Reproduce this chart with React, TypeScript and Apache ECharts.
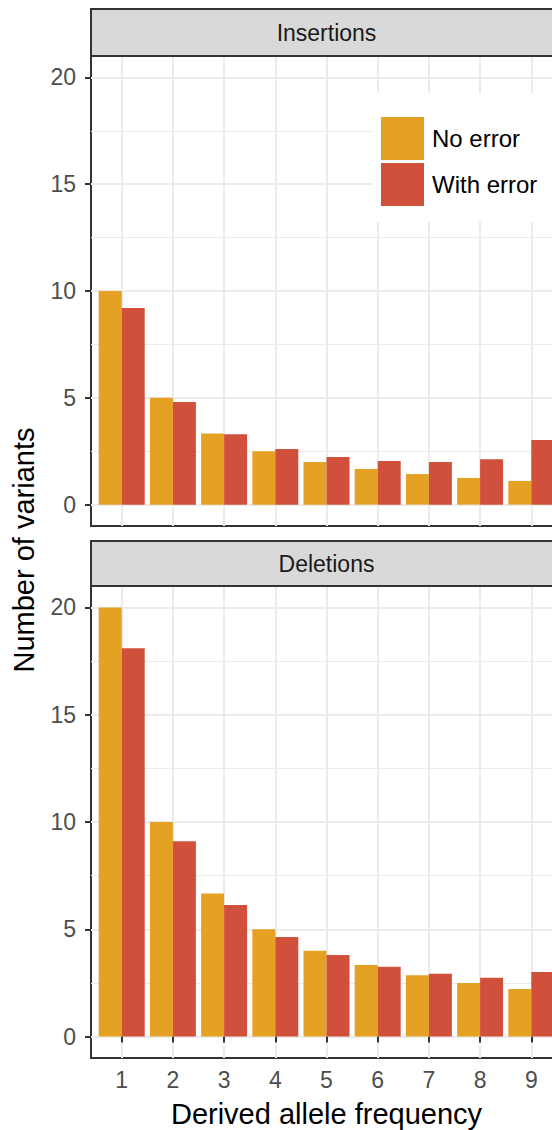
import React, { useEffect, useRef } from "react";
import * as echarts from "echarts";

// ---- data ----
const categories = [1, 2, 3, 4, 5, 6, 7, 8, 9];
const insertionsNoError = [10, 5, 3.33, 2.5, 2.0, 1.67, 1.43, 1.25, 1.11];
const insertionsWithError = [9.2, 4.8, 3.3, 2.6, 2.23, 2.04, 1.99, 2.13, 3.02];
const deletionsNoError = [20, 10, 6.67, 5, 4, 3.33, 2.86, 2.5, 2.22];
const deletionsWithError = [18.1, 9.1, 6.13, 4.64, 3.8, 3.25, 2.93, 2.74, 3.01];
const yTicks = [0, 5, 10, 15, 20];
const yMinorTicks = [2.5, 7.5, 12.5, 17.5];
const panelTitles = ["Insertions", "Deletions"];
const seriesNames = ["No error", "With error"];
const xTitle = "Derived allele frequency";
const yTitle = "Number of variants";

const ORANGE = "#E5A124";
const RED = "#D1503C";
const FONT = "Liberation Sans, Arial, Helvetica, sans-serif";
const GRID_MAJOR = "#EBEBEB";
const DARK = "#333333";

const PANEL_LEFT = 91;
const PANEL_WIDTH = 471;
const panels = [
  { top: 56, height: 470, stripTop: 9, stripH: 47 },
  { top: 586, height: 472, stripTop: 541, stripH: 45 },
];

export default function App() {
  const ref = useRef<HTMLDivElement>(null);
  useEffect(() => {
    if (!ref.current) return;
    const chart = echarts.init(ref.current, null, { renderer: "svg" });

    const grids = panels.map((p) => ({
      left: PANEL_LEFT,
      top: p.top,
      width: PANEL_WIDTH,
      height: p.height,
      show: true,
      backgroundColor: "#fff",
      borderColor: DARK,
      borderWidth: 2,
      containLabel: false,
    }));

    const xAxes = panels.map((_, i) => ({
      type: "value",
      gridIndex: i,
      min: 0.4,
      max: 9.6,
      axisLine: { show: false },
      axisTick: {
        show: i === 1,
        length: 6,
        lineStyle: { color: DARK, width: 2 },
        customValues: categories,
      },
      axisLabel: {
        show: i === 1,
        customValues: categories,
        color: "#4D4D4D",
        fontSize: 23,
        fontFamily: FONT,
        margin: 10,
      },
      splitLine: {
        show: true,
        customValues: categories,
        lineStyle: { color: GRID_MAJOR, width: 2 },
      },
    }));

    const yAxes: any[] = [];
    panels.forEach((_, i) => {
      yAxes.push({
        type: "value",
        gridIndex: i,
        min: -1,
        max: 21,
        axisLine: { show: false },
        axisTick: {
          show: true,
          length: 6,
          lineStyle: { color: DARK, width: 2 },
          customValues: yTicks,
        },
        axisLabel: {
          customValues: yTicks,
          color: "#4D4D4D",
          fontSize: 23,
          fontFamily: FONT,
          margin: 15,
        },
        splitLine: {
          show: true,
          customValues: yTicks,
          lineStyle: { color: GRID_MAJOR, width: 2 },
        },
      });
      yAxes.push({
        type: "value",
        gridIndex: i,
        min: -1,
        max: 21,
        position: "left",
        axisLine: { show: false },
        axisTick: { show: false, customValues: yMinorTicks },
        axisLabel: { show: false, customValues: yMinorTicks },
        splitLine: {
          show: true,
          customValues: yMinorTicks,
          lineStyle: { color: GRID_MAJOR, width: 1 },
        },
      });
    });

    const panelData = [
      [insertionsNoError, insertionsWithError],
      [deletionsNoError, deletionsWithError],
    ];
    const colors = [ORANGE, RED];
    const series: any[] = [];
    panelData.forEach((pair, pi) => {
      pair.forEach((vals, si) => {
        series.push({
          type: "bar",
          name: seriesNames[si],
          xAxisIndex: pi,
          yAxisIndex: pi * 2,
          data: categories.map((c, k) => [c, vals[k]]),
          barWidth: 23,
          barGap: "0%",
          itemStyle: { color: colors[si] },
          z: 3,
        });
      });
    });

    const graphics: any[] = [];
    panels.forEach((p, i) => {
      graphics.push({
        type: "rect",
        shape: { x: PANEL_LEFT, y: p.stripTop, width: PANEL_WIDTH, height: p.stripH },
        style: { fill: "#D9D9D9", stroke: DARK, lineWidth: 2 },
        z: 10,
      });
      graphics.push({
        type: "text",
        x: PANEL_LEFT + PANEL_WIDTH / 2,
        y: p.stripTop + p.stripH / 2,
        style: {
          text: panelTitles[i],
          fontSize: 23,
          fontFamily: FONT,
          fill: "#1A1A1A",
          textAlign: "center",
          textVerticalAlign: "middle",
        },
        z: 11,
      });
    });
    graphics.push({
      type: "text",
      x: 24,
      y: 550,
      rotation: Math.PI / 2,
      style: {
        text: yTitle,
        fontSize: 29,
        fontFamily: FONT,
        fill: "#000",
        textAlign: "center",
        textVerticalAlign: "middle",
      },
    });
    graphics.push({
      type: "text",
      x: PANEL_LEFT + PANEL_WIDTH / 2,
      y: 1114,
      style: {
        text: xTitle,
        fontSize: 29,
        fontFamily: FONT,
        fill: "#000",
        textAlign: "center",
        textVerticalAlign: "middle",
      },
    });

    chart.setOption({
      animation: false,
      backgroundColor: "#fff",
      grid: grids,
      xAxis: xAxes,
      yAxis: yAxes,
      series,
      legend: {
        orient: "vertical",
        left: 372,
        top: 93,
        itemWidth: 43,
        itemHeight: 43,
        itemGap: 3,
        icon: "rect",
        selectedMode: false,
        backgroundColor: "#fff",
        padding: [24, 40, 16, 9],
        data: seriesNames,
        textStyle: { fontSize: 24, color: "#000", fontFamily: FONT, padding: [0, 0, 0, 3] },
        z: 20,
      },
      graphic: graphics,
    });
    return () => chart.dispose();
  }, []);
  return (
    <div
      style={{
        position: "absolute",
        left: 0,
        top: 0,
        width: 552,
        height: 1130,
        overflow: "hidden",
      }}
    >
      <div ref={ref} style={{ width: 600, height: 1130 }} />
    </div>
  );
}
